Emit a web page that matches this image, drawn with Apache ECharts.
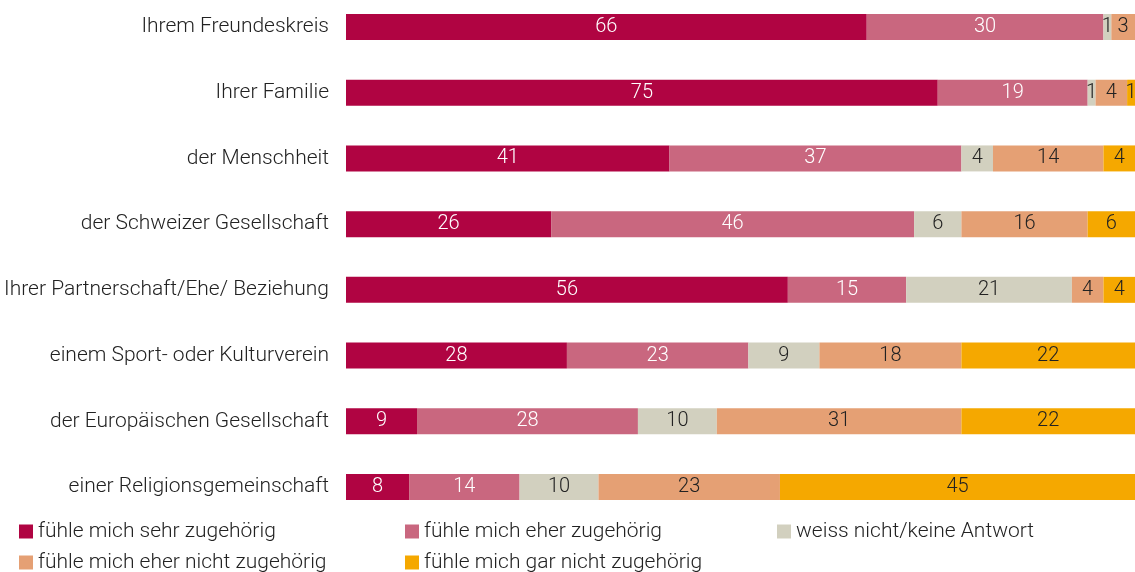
<!DOCTYPE html>
<html>
<head>
<meta charset="utf-8">
<script src="https://cdn.jsdelivr.net/npm/echarts@6/dist/echarts.min.js"></script>
<style>
  html, body { margin: 0; padding: 0; background: #fff; }
  #chart { width: 1135px; height: 572px; }
</style>
</head>
<body>
<div id="chart"></div>
<script>
// Zugehörigkeit, Anteile in %
var categories = [
  'Ihrem Freundeskreis',
  'Ihrer Familie',
  'der Menschheit',
  'der Schweizer Gesellschaft',
  'Ihrer Partnerschaft/Ehe/ Beziehung',
  'einem Sport- oder Kulturverein',
  'der Europäischen Gesellschaft',
  'einer Religionsgemeinschaft'
];
var seriesNames = [
  'fühle mich sehr zugehörig',
  'fühle mich eher zugehörig',
  'weiss nicht/keine Antwort',
  'fühle mich eher nicht zugehörig',
  'fühle mich gar nicht zugehörig'
];
var sehr      = [66, 75, 41, 26, 56, 28, 9, 8];
var eher      = [30, 19, 37, 46, 15, 23, 28, 14];
var weissNich = [1, 1, 4, 6, 21, 9, 10, 10];
var eherNicht = [3, 4, 14, 16, 4, 18, 31, 23];
var garNicht  = [0, 1, 4, 6, 4, 22, 22, 45];

var values = [sehr, eher, weissNich, eherNicht, garNicht];
var colors = ['#b00442', '#c9677f', '#d2d0bf', '#e5a074', '#f5a800'];
var labelColors = ['#fff', '#fff', '#222', '#222', '#222'];
var FONT = 'Roboto';
var FS = 20;

var chart = echarts.init(document.getElementById('chart'));

var series = values.map(function (vals, i) {
  return {
    name: seriesNames[i],
    type: 'bar',
    stack: 'all',
    barWidth: 26,
    data: vals,
    itemStyle: { color: colors[i] },
    label: {
      show: true,
      position: 'inside',
      color: labelColors[i],
      fontFamily: FONT,
      fontWeight: 300,
      fontSize: FS,
      formatter: function (p) { return p.value ? p.value : ''; }
    }
  };
});

// one legend per item so the grid of the original can be kept
var legendPos = [[19, 521], [405, 521], [777, 521], [19, 552], [405, 552]];
function legendItem(name, pos) {
  return {
    left: pos[0], top: pos[1], padding: 0,
    icon: 'rect', itemWidth: 14, itemHeight: 14, itemGap: 0,
    data: [name],
    textStyle: { color: '#222', fontFamily: FONT, fontWeight: 300, fontSize: FS + 1 },
    selectedMode: false
  };
}

var option = {
  animation: false,
  grid: { left: 346, right: 0, top: 27, bottom: 85 },
  legend: seriesNames.map(function (n, i) { return legendItem(n, legendPos[i]); }),
  xAxis: { type: 'value', min: 0, max: 100, show: false },
  yAxis: {
    type: 'category',
    inverse: true,
    boundaryGap: false,
    data: categories,
    axisLine: { show: false },
    axisTick: { show: false },
    splitLine: { show: false },
    axisLabel: { color: '#222', fontFamily: FONT, fontWeight: 300, fontSize: FS + 1, margin: 17 }
  },
  series: series
};
chart.setOption(option);
</script>
</body>
</html>
